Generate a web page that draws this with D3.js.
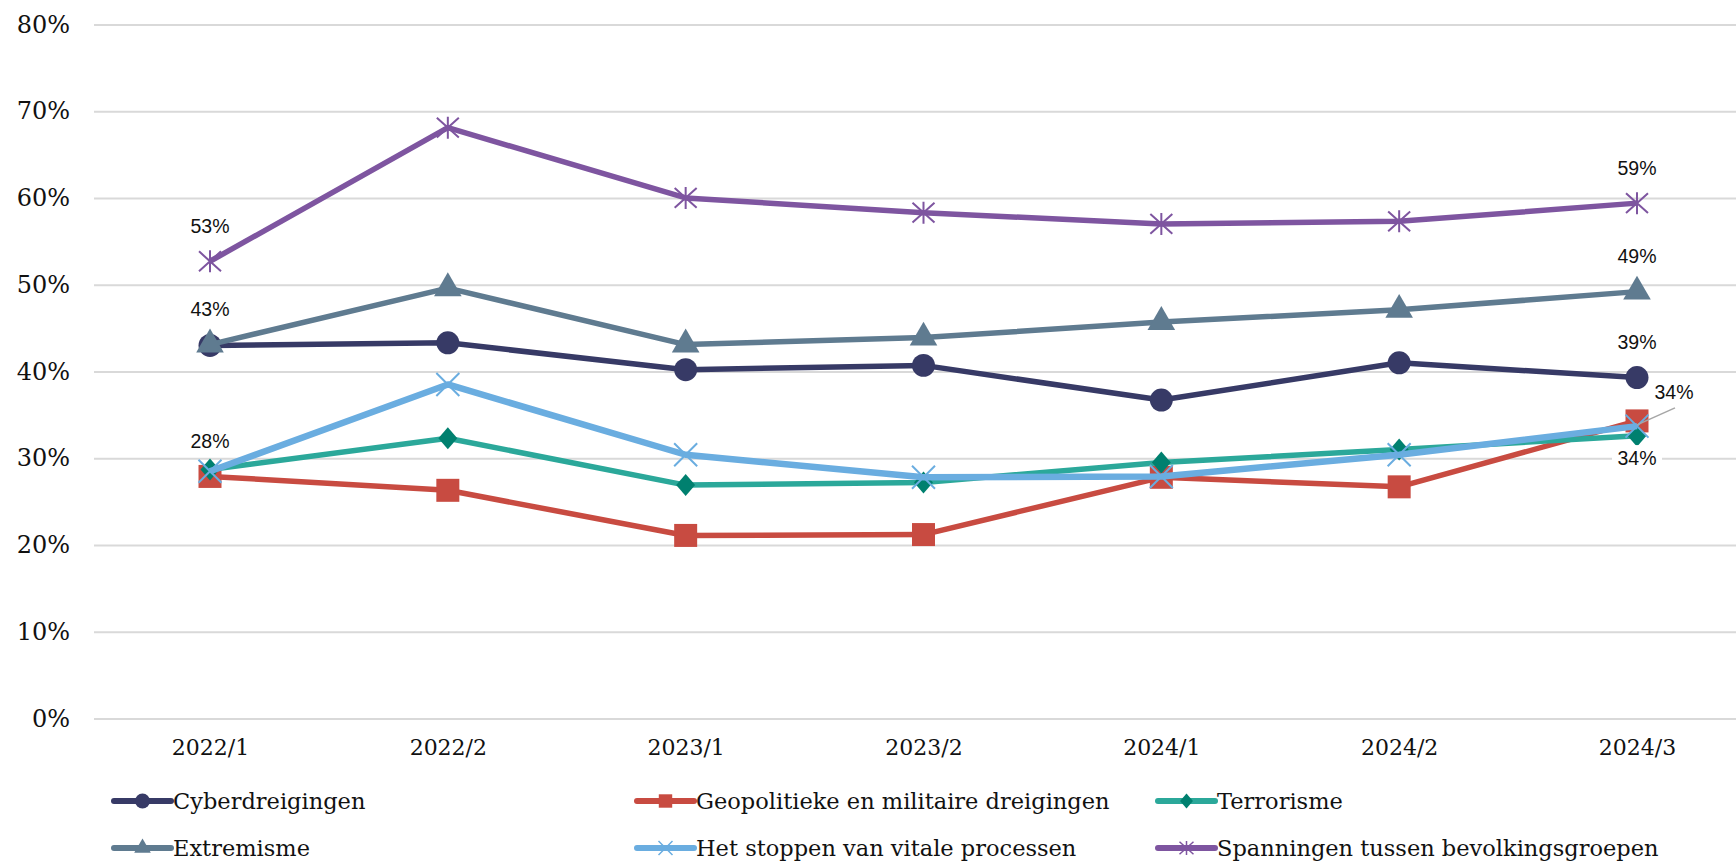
<!DOCTYPE html>
<html>
<head>
<meta charset="utf-8">
<script src="https://cdn.jsdelivr.net/npm/d3@7"></script>
<style>
  body { margin: 0; background: #fff; }
  .tick text { font-family: "DejaVu Serif", serif; fill: #111; }
  .lbl { font-family: "Liberation Sans", Arial, sans-serif; font-size: 19.5px; fill: #111; }
  .leg { font-family: "DejaVu Serif", serif; font-size: 22.5px; fill: #111; }
</style>
</head>
<body>
<div id="chart"></div>
<script>
// categories and series values (share of respondents)
var periods = ["2022/1", "2022/2", "2023/1", "2023/2", "2024/1", "2024/2", "2024/3"];
var yTicks = [0, 0.1, 0.2, 0.3, 0.4, 0.5, 0.6, 0.7, 0.8];

var cyber       = [0.430, 0.433, 0.402, 0.407, 0.367, 0.410, 0.393];
var geopolitiek = [0.279, 0.263, 0.211, 0.212, 0.278, 0.267, 0.343];
var terrorisme  = [0.287, 0.323, 0.269, 0.272, 0.295, 0.310, 0.326];
var extremisme  = [0.431, 0.496, 0.431, 0.439, 0.457, 0.471, 0.492];
var stoppen     = [0.285, 0.385, 0.304, 0.278, 0.279, 0.304, 0.337];
var spanningen  = [0.527, 0.681, 0.600, 0.583, 0.570, 0.573, 0.594];

var seriesNames = ["Cyberdreigingen", "Geopolitieke en militaire dreigingen", "Terrorisme",
                   "Extremisme", "Het stoppen van vitale processen", "Spanningen tussen bevolkingsgroepen"];

// which points carry a data label: [series index, period index, position]
var dataLabels = [[5, 0, "above"], [3, 0, "above"], [1, 0, "above"],
                  [5, 6, "above"], [3, 6, "above"], [0, 6, "above"],
                  [1, 6, "leader"], [4, 6, "below"]];

var series = [
  {name: seriesNames[0], values: cyber,       color: "#373a66", marker: "circle",   mfill: "#373a66", width: 5.5},
  {name: seriesNames[1], values: geopolitiek, color: "#c84b41", marker: "square",   mfill: "#c84b41", width: 5.5},
  {name: seriesNames[2], values: terrorisme,  color: "#2ba89a", marker: "diamond",  mfill: "#00806f", width: 5.5},
  {name: seriesNames[3], values: extremisme,  color: "#5f7b90", marker: "triangle", mfill: "#5f7b90", width: 5.5},
  {name: seriesNames[4], values: stoppen,     color: "#6aade0", marker: "times",    mfill: "none",    width: 6.5},
  {name: seriesNames[5], values: spanningen,  color: "#7e55a0", marker: "star",     mfill: "none",    width: 5.5}
];

var W = 1736, H = 865;
var svg = d3.select("#chart").append("svg")
    .attr("width", W)
    .attr("height", H);

var x = d3.scalePoint()
    .domain(periods)
    .range([210, 1637]);

var y = d3.scaleLinear()
    .domain([0, 0.8])
    .range([718.5, 24.4]);

// gridlines + y labels
var yAxis = d3.axisLeft(y)
    .tickValues(yTicks)
    .tickFormat(d3.format(".0%"))
    .tickSize(-(1736 - 94))
    .tickPadding(24);

svg.append("g")
    .attr("transform", "translate(94,0)")
    .call(yAxis)
    .call(g => g.select(".domain").remove())
    .call(g => g.selectAll(".tick line").attr("stroke", "#d9d9d9").attr("stroke-width", 2))
    .call(g => g.selectAll(".tick text").attr("font-size", 24));

// x labels
var xAxis = d3.axisBottom(x).tickSize(0).tickPadding(0);
svg.append("g")
    .attr("transform", "translate(0,740)")
    .call(xAxis)
    .call(g => g.select(".domain").remove())
    .call(g => g.selectAll(".tick text").attr("font-size", 22).attr("dy", "0.7em"));

// marker path builder
function markerPath(type, s) {
  var h = s / 2;
  if (type == "star") {
    return "M" + (-h) + "," + (-h * 0.9) + "L" + h + "," + (h * 0.9) +
           "M" + (-h) + "," + (h * 0.9) + "L" + h + "," + (-h * 0.9) +
           "M0," + (-h) + "L0," + h;
  }
  if (type == "times") {
    return "M" + (-h) + "," + (-h) + "L" + h + "," + h + "M" + (-h) + "," + h + "L" + h + "," + (-h);
  }
  if (type == "diamond") {
    var w = h * 0.86;
    return "M0," + (-h) + "L" + w + ",0L0," + h + "L" + (-w) + ",0Z";
  }
  var types = {circle: d3.symbolCircle, square: d3.symbolSquare, triangle: d3.symbolTriangle};
  return d3.symbol().type(types[type]).size(s)();
}

var markerSize = {circle: 415, square: 529, diamond: 22, triangle: 330, times: 23, star: 22};
var legendSize = {circle: 175, square: 180, diamond: 15, triangle: 120, times: 14, star: 14};

var line = d3.line()
    .x((d, i) => x(periods[i]))
    .y(d => y(d));

series.forEach(function(s) {
  var g = svg.append("g");
  g.append("path")
      .datum(s.values)
      .attr("d", line)
      .attr("fill", "none")
      .attr("stroke", s.color)
      .attr("stroke-width", s.width)
      .attr("stroke-linejoin", "round");

  g.selectAll(".m")
      .data(s.values)
      .enter()
      .append("path")
      .attr("transform", (d, i) => "translate(" + x(periods[i]) + "," + y(d) + ")")
      .attr("d", markerPath(s.marker, markerSize[s.marker]))
      .attr("fill", s.mfill)
      .attr("stroke", s.mfill == "none" ? s.color : "none")
      .attr("stroke-width", 2);
});

// data labels
var fmt = d3.format(".0%");
dataLabels.forEach(function(dl) {
  var s = series[dl[0]];
  var v = s.values[dl[1]];
  var px = x(periods[dl[1]]), py = y(v);
  if (dl[2] == "above") {
    svg.append("text").attr("class", "lbl")
        .attr("x", px).attr("y", py - 35)
        .attr("text-anchor", "middle").attr("dy", "0.35em")
        .text(fmt(v));
  } else if (dl[2] == "below") {
    svg.append("rect")
        .attr("x", px - 25).attr("y", py + 19)
        .attr("width", 50).attr("height", 26)
        .attr("fill", "#fff");
    svg.append("text").attr("class", "lbl")
        .attr("x", px).attr("y", py + 32)
        .attr("text-anchor", "middle").attr("dy", "0.35em")
        .text(fmt(v));
  } else {
    svg.append("line")
        .attr("x1", px).attr("y1", py + 4)
        .attr("x2", px + 38).attr("y2", py - 13)
        .attr("stroke", "#a6a6a6").attr("stroke-width", 1.5);
    svg.append("text").attr("class", "lbl")
        .attr("x", px + 37).attr("y", py - 29)
        .attr("text-anchor", "middle").attr("dy", "0.35em")
        .text(fmt(v));
  }
});

// legend
var legCols = [114, 637, 1158];
var legRows = [801, 848];
var legend = svg.append("g");
series.forEach(function(s, i) {
  var lx = legCols[i % 3], ly = legRows[Math.floor(i / 3)];
  var g = legend.append("g").attr("transform", "translate(" + lx + "," + ly + ")");
  g.append("line")
      .attr("x1", 0).attr("x2", 57)
      .attr("stroke", s.color).attr("stroke-width", 6)
      .attr("stroke-linecap", "round");
  g.append("path")
      .attr("transform", "translate(28.5,0)")
      .attr("d", markerPath(s.marker, legendSize[s.marker]))
      .attr("fill", s.mfill)
      .attr("stroke", s.mfill == "none" ? s.color : "none")
      .attr("stroke-width", 1.5);
  g.append("text").attr("class", "leg")
      .attr("x", 59).attr("dy", "0.35em")
      .text(s.name);
});
</script>
</body>
</html>
